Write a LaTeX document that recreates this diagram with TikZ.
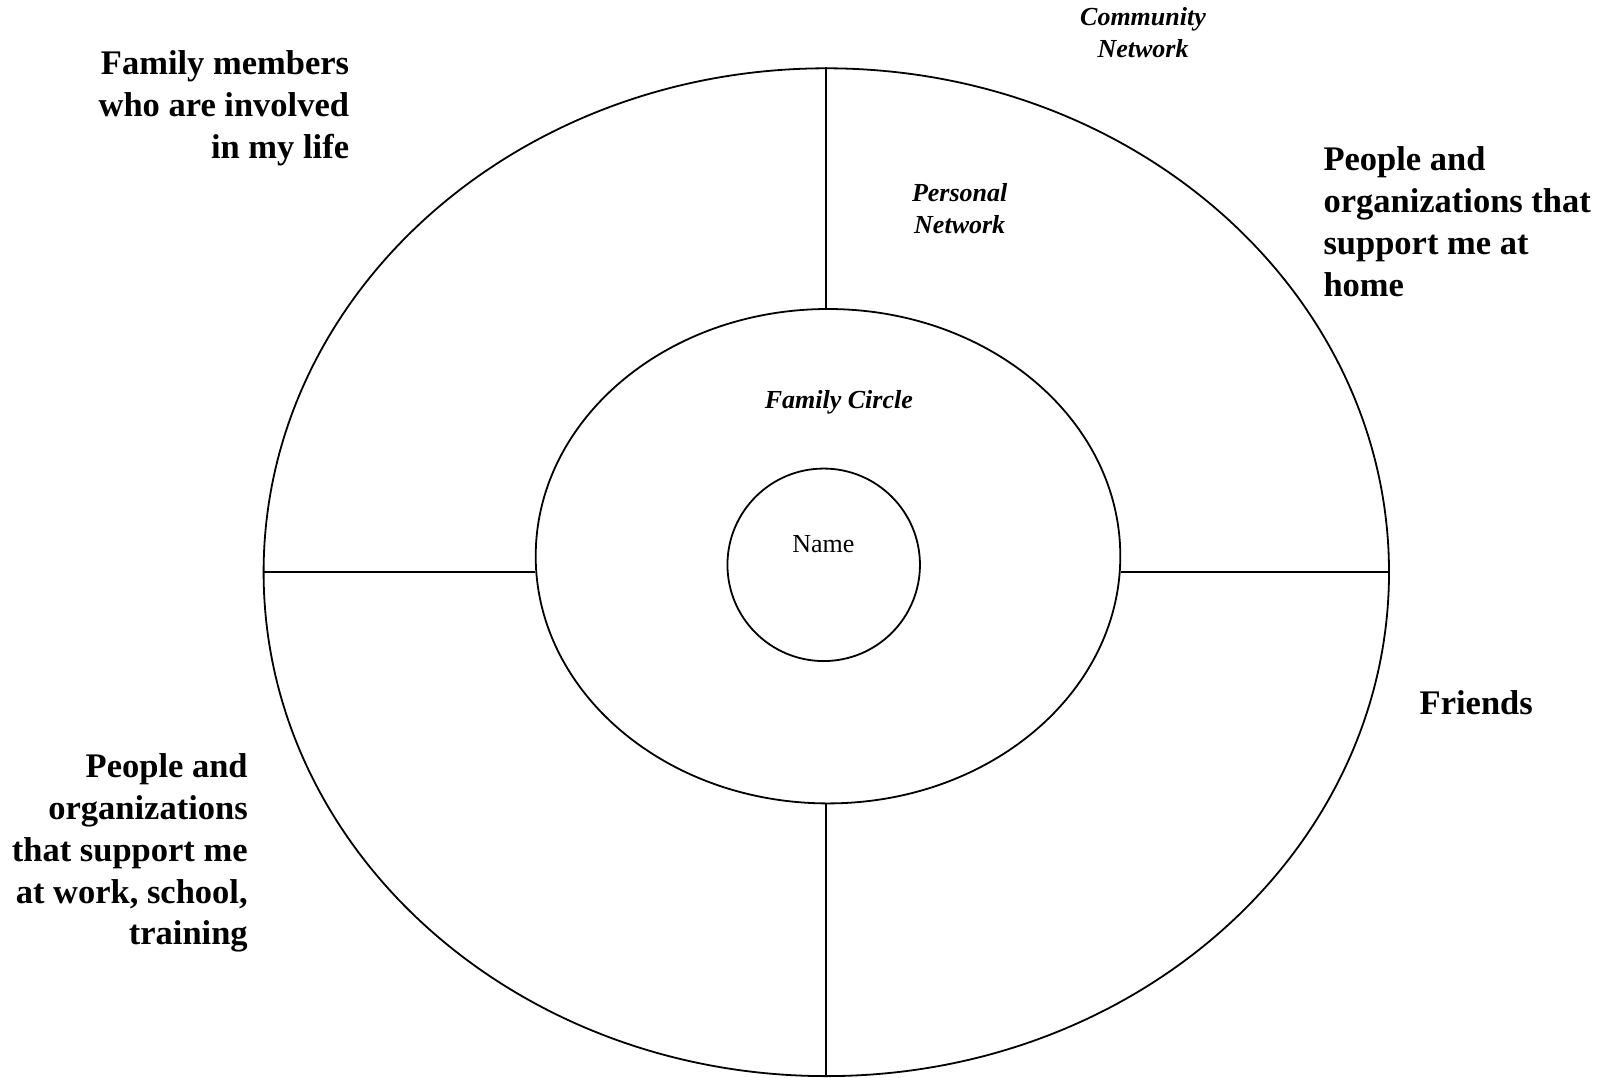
\documentclass[tikz,border=0pt]{standalone}
\usepackage{fontspec}
\setmainfont{Liberation Serif}
\usetikzlibrary{shapes.geometric}
\tikzset{
  ring/.style={draw, ellipse, inner sep=0pt, line width=1.8pt},
  divider/.style={line width=1.8pt},
  biglabel/.style={inner sep=0pt, font=\fontsize{34.5}{41.9}\selectfont\bfseries},
  smalllabel/.style={inner sep=0pt, align=center, font=\fontsize{26}{32.2}\selectfont\bfseries\itshape},
}
\begin{document}
\begin{tikzpicture}[x=1pt,y=-1pt]
\useasboundingbox (0,0) rectangle (1606,1077);
% rings
\node[ring, minimum width=1125.4pt, minimum height=1007.8pt] (outer) at (826.3,572.2) {};
\node[ring, minimum width=584.6pt, minimum height=494.4pt] (inner) at (828,556.2) {};
\node[ring, circle, minimum size=192.5pt] (self) at (823.7,564.8) {};
% dividers
\draw[divider] (outer.north) -- (outer.north |- inner.north);
\draw[divider] (outer.south) -- (outer.south |- inner.south);
\draw[divider] (outer.west) -- (outer.west -| inner.west);
\draw[divider] (outer.east) -- (outer.east -| inner.east);
% ring labels
\node[inner sep=0pt, font=\fontsize{26}{31.7}\selectfont] (nametext) at (823.3,544) {Name};
\node[smalllabel] (familycircle) at (838.8,402) {Family Circle};
\node[smalllabel] (personal) at (959.7,208.8) {Personal\\Network};
\node[smalllabel] (community) at (1143,32.5) {Community\\Network};
% quadrant labels
\node[biglabel, align=right, anchor=east] (family) at (349.3,108.5) {Family members\\who are involved\\in my life};
\node[biglabel, align=left, anchor=west] (home) at (1323.3,221.7) {People and\\organizations that\\support me at\\home};
\node[biglabel, anchor=west] (friends) at (1419.5,702.8) {Friends};
\node[biglabel, align=right, anchor=east] (work) at (247.9,853) {People and\\organizations\\that support me\\at work, school,\\training};
\end{tikzpicture}
\end{document}
